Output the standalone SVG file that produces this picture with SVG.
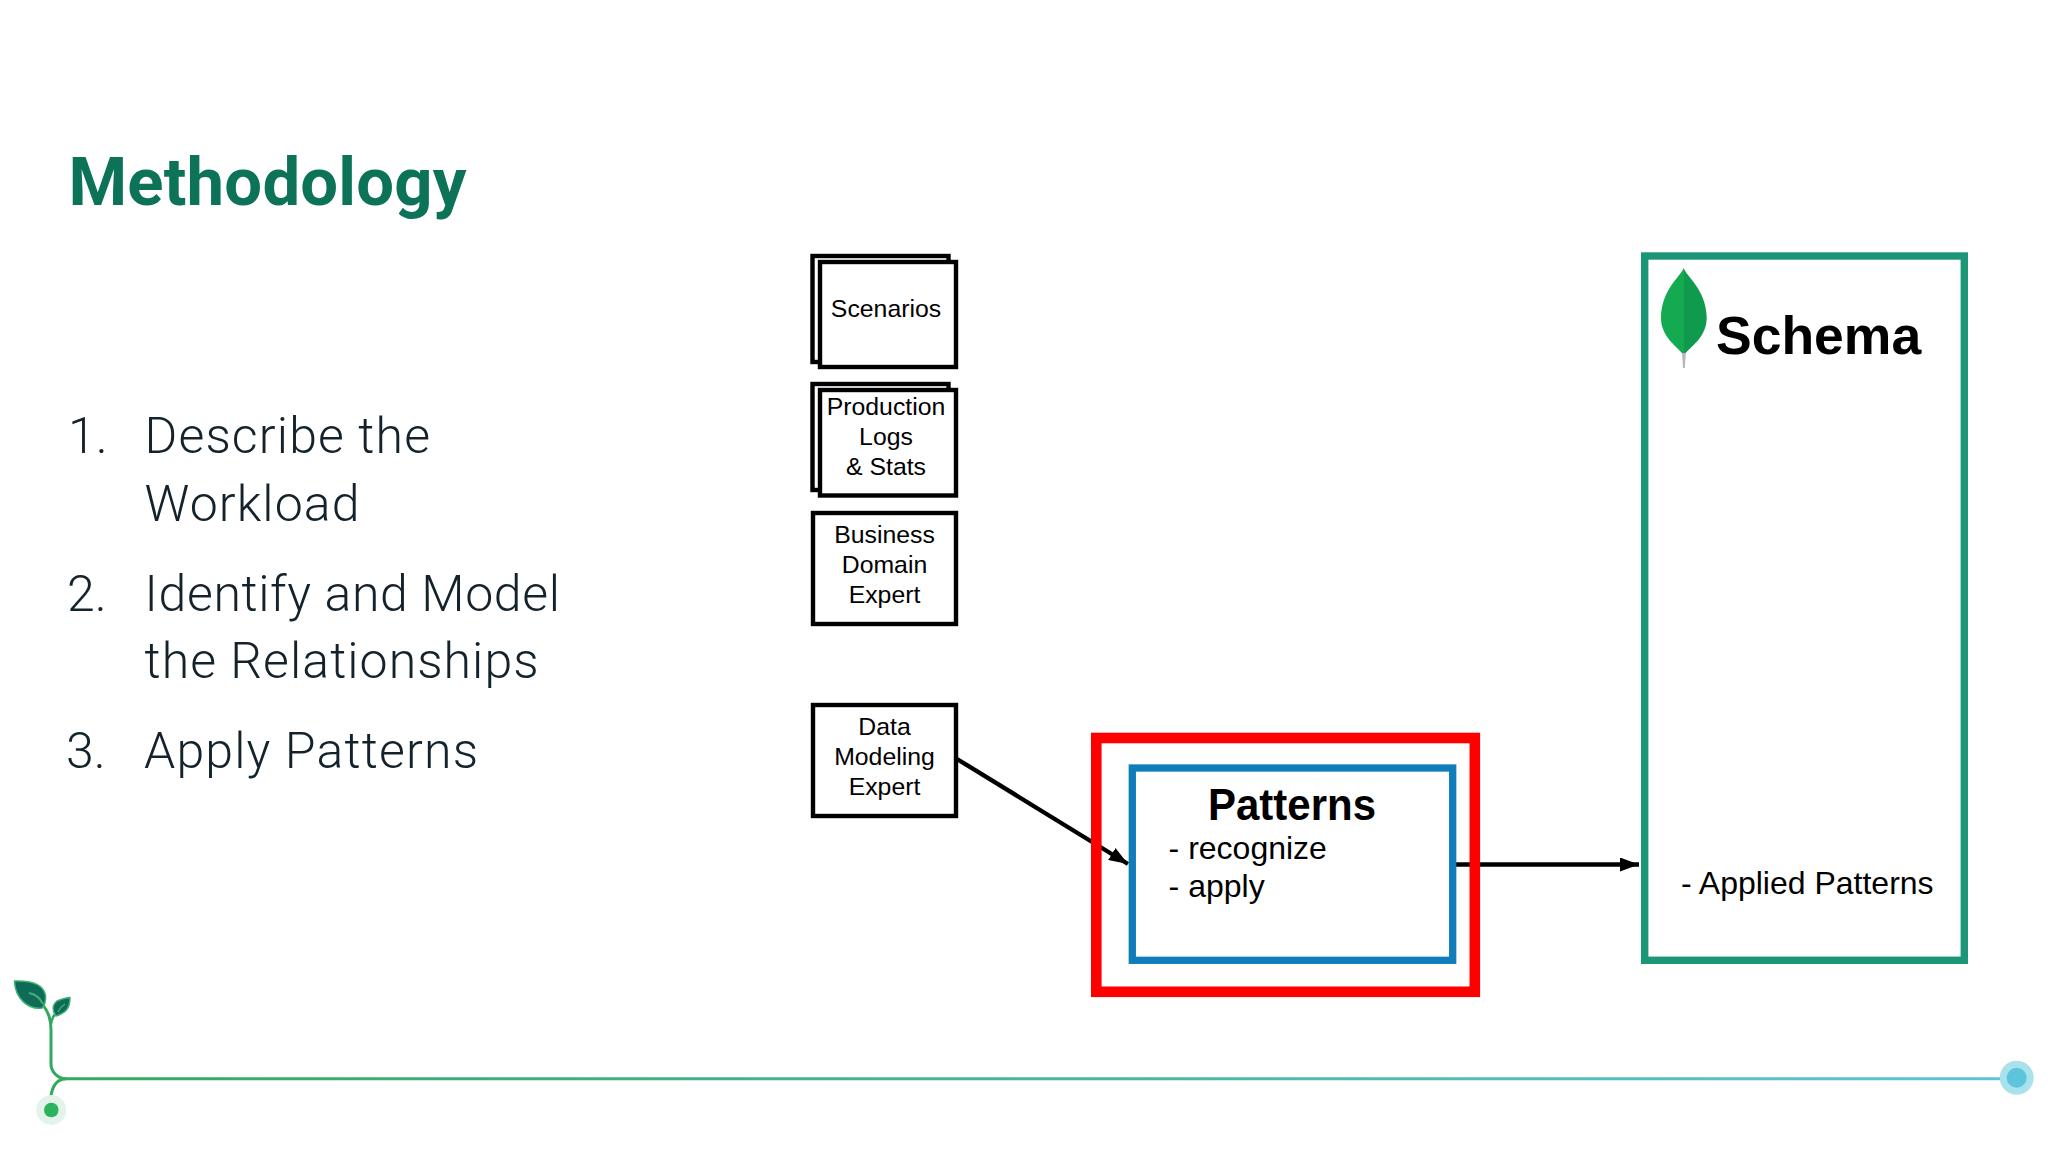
<svg xmlns="http://www.w3.org/2000/svg" width="2048" height="1152" viewBox="0 0 2048 1152">
<style>
.a{font-family:"Liberation Sans",Arial,sans-serif;fill:#000}
.b{font-size:24.800px;text-anchor:middle}
.m{font-size:32px}
.t{font-family:Roboto,"Liberation Sans",sans-serif;font-weight:300;font-size:50px;fill:#14222c}
.box{fill:#fff;stroke:#000;stroke-width:4.4}
.con{fill:none;stroke:#000;stroke-width:4.4}
</style>
<defs>
<marker id="ah" markerUnits="userSpaceOnUse" markerWidth="20" markerHeight="14" refX="19" refY="7" orient="auto"><path d="M0,0L19,7L0,14Z" fill="#000"/></marker>
<linearGradient id="tl" gradientUnits="userSpaceOnUse" x1="60" y1="0" x2="2016" y2="0"><stop offset="0" stop-color="#33a95f"/><stop offset="1" stop-color="#5cc4d8"/></linearGradient>
<linearGradient id="lf" x1="0" x2="1" y1="0" y2="0"><stop offset="0" stop-color="#13aa52"/><stop offset=".5" stop-color="#13aa52"/><stop offset=".5" stop-color="#109a4e"/><stop offset="1" stop-color="#109a4e"/></linearGradient>
</defs>
<rect width="2048" height="1152" fill="#fff"/>
<text x="68.500" y="205" font-family="Roboto,'Liberation Sans',sans-serif" font-weight="700" font-size="67" fill="#0c7358" textLength="398">Methodology</text>
<g id="steps">
<text class="t" x="68" y="453">1.</text><text class="t" x="144.500" y="453" textLength="285.500">Describe the</text>
<text class="t" x="144.500" y="521" textLength="215">Workload</text>
<text class="t" x="67" y="611">2.</text><text class="t" x="144.500" y="611" textLength="415.500">Identify and Model</text>
<text class="t" x="144.500" y="678" textLength="394">the Relationships</text>
<text class="t" x="66" y="768">3.</text><text class="t" x="144" y="768" textLength="334">Apply Patterns</text>
</g>
<g id="connectors">
<path class="con" d="M957,759L1128,864" marker-end="url(#ah)"/>
<path class="con" d="M1456,864.500H1639" marker-end="url(#ah)"/>
</g>
<g id="scenarios">
<rect class="box" x="812.500" y="256" width="136" height="106"/><rect class="box" x="820" y="262" width="136" height="105"/>
<text class="a b" x="886" y="317">Scenarios</text>
</g>
<g id="production-logs">
<rect class="box" x="812.500" y="384" width="136" height="106"/><rect class="box" x="820" y="390" width="136" height="105.500"/>
<text class="a b" x="886" y="415">Production</text><text class="a b" x="886" y="444.500">Logs</text><text class="a b" x="886" y="475">&amp; Stats</text>
</g>
<g id="business-expert">
<rect class="box" x="813" y="513" width="143" height="111"/>
<text class="a b" x="884.500" y="543">Business</text><text class="a b" x="884.500" y="573">Domain</text><text class="a b" x="884.500" y="603">Expert</text>
</g>
<g id="data-expert">
<rect class="box" x="813" y="705" width="143" height="111"/>
<text class="a b" x="884.500" y="735">Data</text><text class="a b" x="884.500" y="765">Modeling</text><text class="a b" x="884.500" y="795">Expert</text>
</g>
<g id="patterns-highlight"><rect x="1096.300" y="738" width="378.500" height="253.800" fill="none" stroke="#f00" stroke-width="10.600"/></g>
<g id="patterns">
<rect x="1132.300" y="768" width="320.400" height="192.300" fill="none" stroke="#0f7dba" stroke-width="7.300"/>
<text class="a" x="1208" y="820" font-size="44" font-weight="700" textLength="168" lengthAdjust="spacingAndGlyphs">Patterns</text>
<text class="a m" x="1168.600" y="858.500">- recognize</text><text class="a m" x="1168.600" y="897">- apply</text>
</g>
<g id="schema">
<rect x="1644.700" y="256" width="319.600" height="704.300" fill="none" stroke="#1b9778" stroke-width="7.400"/>
<path d="M1681.800,350L1686,350L1684.800,368L1683,368Z" fill="#b8b8b8"/>
<path d="M1683.700,268C1686,276 1706.700,290 1706.700,318C1706.700,336 1692,346 1685.500,353L1682,353C1676,346 1661,336 1661,318C1661,290 1681,276 1683.700,268Z" fill="url(#lf)"/>
<text class="a" x="1716" y="354" font-size="53.500" font-weight="700">Schema</text>
<text class="a m" x="1681" y="894">- Applied Patterns</text>
</g>
<g id="timeline">
<path d="M2016,1078.700H66C58,1078.700 51,1072 51,1064V1030C51,1018 48,1012 43,1005" fill="none" stroke="url(#tl)" stroke-width="3"/>
<path d="M51,1024C52,1018 53,1016 56,1013" fill="none" stroke="#33a95f" stroke-width="2.500"/>
<path d="M66,1078.700C58,1079 50.500,1084 50.500,1104" fill="none" stroke="#33a95f" stroke-width="3"/>
<path d="M14.500,981C28,980.500 43,983 45.500,995C46,1001 44,1006 42,1008C28,1010 15,998 14.500,981Z" fill="#0f6b58" stroke="#3cb371" stroke-width="1.500"/>
<path d="M29,993C35,994 40,998 43,1004" fill="none" stroke="#3cb371" stroke-width="2"/>
<path d="M70,997.500C70,1008 66,1013 56,1016C52,1011 52,1005 57,1001C61,999 66,998 70,997.500Z" fill="#0f6b58" stroke="#3cb371" stroke-width="1.500"/>
<path d="M58,1012C60,1008 62,1006 65,1004" fill="none" stroke="#3cb371" stroke-width="1.500"/>
<circle cx="51.300" cy="1110" r="15" fill="#e3f3e9"/><circle cx="51.300" cy="1110" r="7.300" fill="#2cb35d"/>
<circle cx="2016.700" cy="1077.700" r="17" fill="#a9e1ec"/><circle cx="2016.700" cy="1077.700" r="10" fill="#5cc5dc"/>
</g>
</svg>
